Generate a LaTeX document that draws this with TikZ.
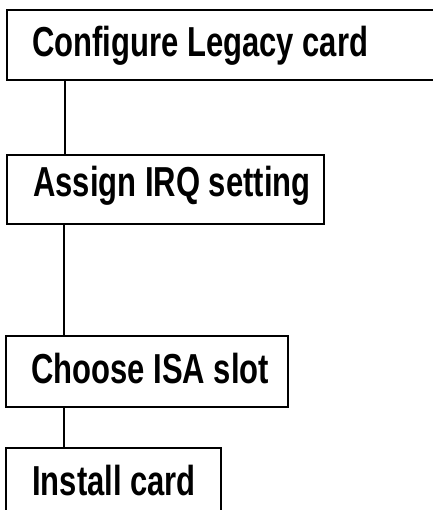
\documentclass[tikz,border=0pt]{standalone}
\usepackage{fontspec}
\setmainfont{Liberation Sans}[FakeStretch=0.74]
\begin{document}
\begin{tikzpicture}[x=1pt,y=-1pt,
  box/.style={draw=black, line width=1.7pt, rectangle, inner sep=0pt, anchor=north west},
  lbl/.style={anchor=base west, inner sep=0pt, font=\bfseries\fontsize{41.9}{44}\selectfont},
  link/.style={draw=black, line width=1.7pt}]
\useasboundingbox (0,0) rectangle (432,510);
\node[box, minimum width=430pt, minimum height=70pt] (b1) at (6,9) {};
\node[box, minimum width=317pt, minimum height=69pt] (b2) at (6,154) {};
\node[box, minimum width=282pt, minimum height=71pt] (b3) at (5,335) {};
\node[box, minimum width=215pt, minimum height=70pt] (b4) at (5,447) {};
\node[lbl] (t1) at (32,57) {Configure Legacy card};
\node[lbl] (t2) at (33,197) {Assign IRQ setting};
\node[lbl] (t3) at (31,383) {Choose ISA slot};
\node[lbl] (t4) at (32,495) {Install card};
\draw[link] ([xshift=59pt]b1.south west) -- ([xshift=59pt]b2.north west);
\draw[link] ([xshift=58pt]b2.south west) -- ([xshift=59pt]b3.north west);
\draw[link] ([xshift=59pt]b3.south west) -- ([xshift=59pt]b4.north west);
\end{tikzpicture}
\end{document}
